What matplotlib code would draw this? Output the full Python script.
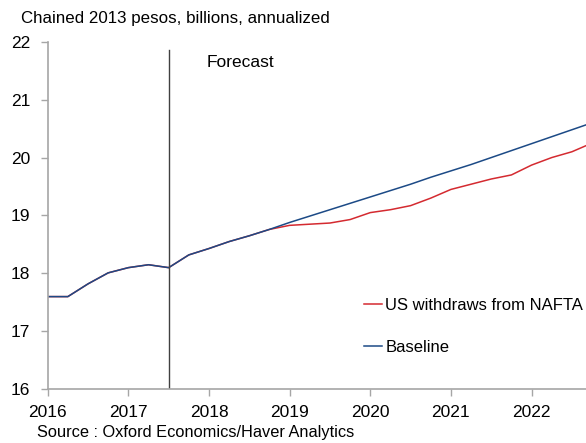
"""
Mexico GDP: baseline vs. US withdrawal from NAFTA.
"""

import matplotlib
matplotlib.use("Agg")
import matplotlib.pyplot as plt


QUARTERS: list[float] = [
    2016.0, 2016.25, 2016.5, 2016.75,
    2017.0, 2017.25, 2017.5, 2017.75,
    2018.0, 2018.25, 2018.5, 2018.75,
    2019.0, 2019.25, 2019.5, 2019.75,
    2020.0, 2020.25, 2020.5, 2020.75,
    2021.0, 2021.25, 2021.5, 2021.75,
    2022.0, 2022.25, 2022.5, 2022.75,
]

BASELINE: list[float] = [
    17.60, 17.60, 17.82, 18.01,
    18.10, 18.15, 18.10, 18.32,
    18.43, 18.55, 18.65, 18.76,
    18.88, 18.99, 19.10, 19.21,
    19.32, 19.43, 19.54, 19.66,
    19.77, 19.88, 20.00, 20.12,
    20.24, 20.36, 20.48, 20.60,
]

NAFTA_EXIT: list[float] = [
    17.60, 17.60, 17.82, 18.01,
    18.10, 18.15, 18.10, 18.32,
    18.43, 18.55, 18.65, 18.76,
    18.83, 18.85, 18.87, 18.93,
    19.05, 19.10, 19.17, 19.30,
    19.45, 19.54, 19.63, 19.70,
    19.87, 20.00, 20.10, 20.25,
]

YEARS: list[int] = [2016, 2017, 2018, 2019, 2020, 2021, 2022]
Y_TICKS: list[int] = [16, 17, 18, 19, 20, 21, 22]

FORECAST_START: float = 2017.5

RED = "#d42a30"
BLUE = "#1c4a86"
AXIS_GREY = "#a6a6a6"


def main() -> None:
    plt.rcParams["font.family"] = ["Liberation Sans", "DejaVu Sans"]

    fig = plt.figure(figsize=(5.86, 4.43), dpi=100)
    ax = fig.add_axes([0.0814, 0.1212, 0.9186, 0.7847])

    ax.plot(QUARTERS, NAFTA_EXIT, color=RED, linewidth=1.1,
            label="US withdraws from NAFTA")
    ax.plot(QUARTERS, BASELINE, color=BLUE, linewidth=1.1,
            label="Baseline")

    ax.axvline(FORECAST_START, ymin=0, ymax=0.977,
               color="#404040", linewidth=1.0)
    ax.text(FORECAST_START + 0.47, 21.56, "Forecast", fontsize=12.5)

    ax.set_xlim(2016, 2022.675)
    ax.set_ylim(16, 22)
    ax.set_xticks(YEARS)
    ax.set_yticks(Y_TICKS)
    ax.tick_params(labelsize=12.5, length=5, width=1, color=AXIS_GREY)
    ax.tick_params(axis="x", pad=6)
    ax.tick_params(axis="y", pad=7.5)

    for side in ("top", "right"):
        ax.spines[side].set_visible(False)
    for side in ("left", "bottom"):
        ax.spines[side].set_color(AXIS_GREY)
        ax.spines[side].set_linewidth(1.2)

    ax.legend(frameon=False, fontsize=12, handlelength=1.1,
              handletextpad=0.2, labelspacing=1.62,
              loc="lower right", bbox_to_anchor=(1.007, 0.08),
              borderaxespad=0)

    fig.text(21 / 586, 1 - 23 / 443, "Chained 2013 pesos, billions, annualized",
             fontsize=12.2)
    fig.text(37 / 586, 1 - 437 / 443, "Source : Oxford Economics/Haver Analytics",
             fontsize=11.8)

    fig.savefig("out.png", dpi=100)


if __name__ == "__main__":
    main()
